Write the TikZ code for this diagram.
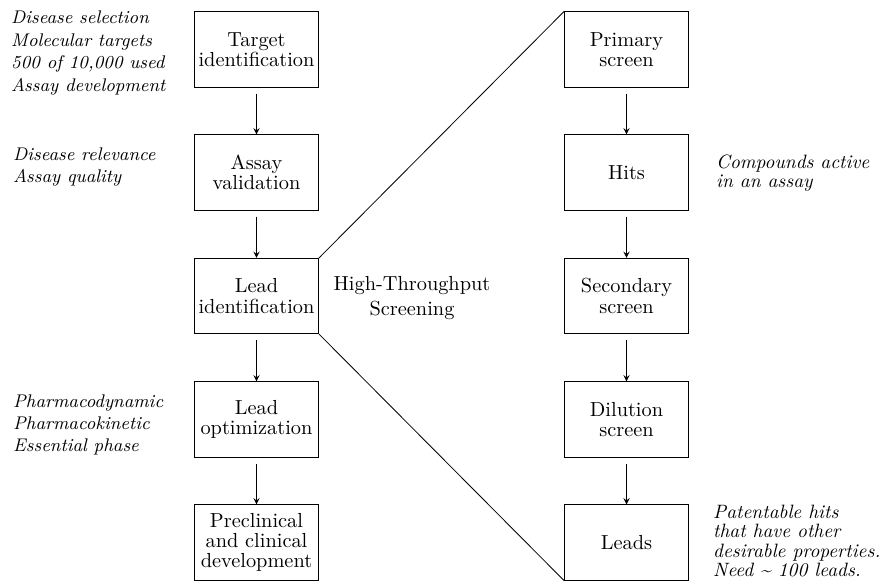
\documentclass[tikz,border=0pt]{standalone}
\usetikzlibrary{positioning}
\begin{document}
\begin{tikzpicture}[x=0.4915pt,y=-0.4915pt,
  stage/.style={draw, minimum width=61pt, minimum height=37pt, align=center, inner sep=1pt,
    font=\fontsize{10}{10}\selectfont},
  note/.style={font=\small\itshape, align=left, anchor=west},
  sidenote/.style={font=\fontsize{9.5}{9.5}\selectfont\itshape, align=left, anchor=west},
  flow/.style={->, >=stealth, shorten <=3pt}]
\useasboundingbox (0,0) rectangle (883,580);
% main pipeline
\node[stage] (target) at (256.5,49.5) {Target\\identification};
\node[stage] (assay) at (256.5,172.5) {Assay\\validation};
\node[stage] (leadid) at (256.5,296) {Lead\\identification};
\node[stage] (leadopt) at (256.5,419.5) {Lead\\optimization};
\node[stage] (preclin) at (256.5,542.5) {Preclinical\\and clinical\\development};
% screening steps
\node[stage] (primary) at (626.5,49.5) {Primary\\screen};
\node[stage] (hits) at (626.5,172.5) {Hits};
\node[stage] (second) at (626.5,296) {Secondary\\screen};
\node[stage] (dilution) at (626.5,419.5) {Dilution\\screen};
\node[stage] (leads) at (626.5,542.5) {Leads};
\node (hts) at (412,298) [align=center] {High-Throughput\\Screening};
% notes
\node[note] (n1) at (4,53) {Disease selection\\Molecular targets\\500 of 10,000 used\\Assay development};
\node[note] (n2) at (6,167) {Disease relevance\\Assay quality};
\node[note] (n3) at (6,425) {Pharmacodynamic\\Pharmacokinetic\\Essential phase};
\node[sidenote] (n4) at (709,173) {Compounds active\\in an assay};
\node[sidenote] (n5) at (706,541) {Patentable hits\\that have other\\desirable properties.\\Need \textasciitilde{} 100 leads.};
% arrows
\draw[flow] (target) -- (assay);
\draw[flow] (assay) -- (leadid);
\draw[flow] (leadid) -- (leadopt);
\draw[flow] (leadopt) -- (preclin);
\draw[flow] (primary) -- (hits);
\draw[flow] (hits) -- (second);
\draw[flow] (second) -- (dilution);
\draw[flow] (dilution) -- (leads);
\draw (leadid.north east) -- (primary.north west);
\draw (leadid.south east) -- (leads.south west);
\end{tikzpicture}
\end{document}
